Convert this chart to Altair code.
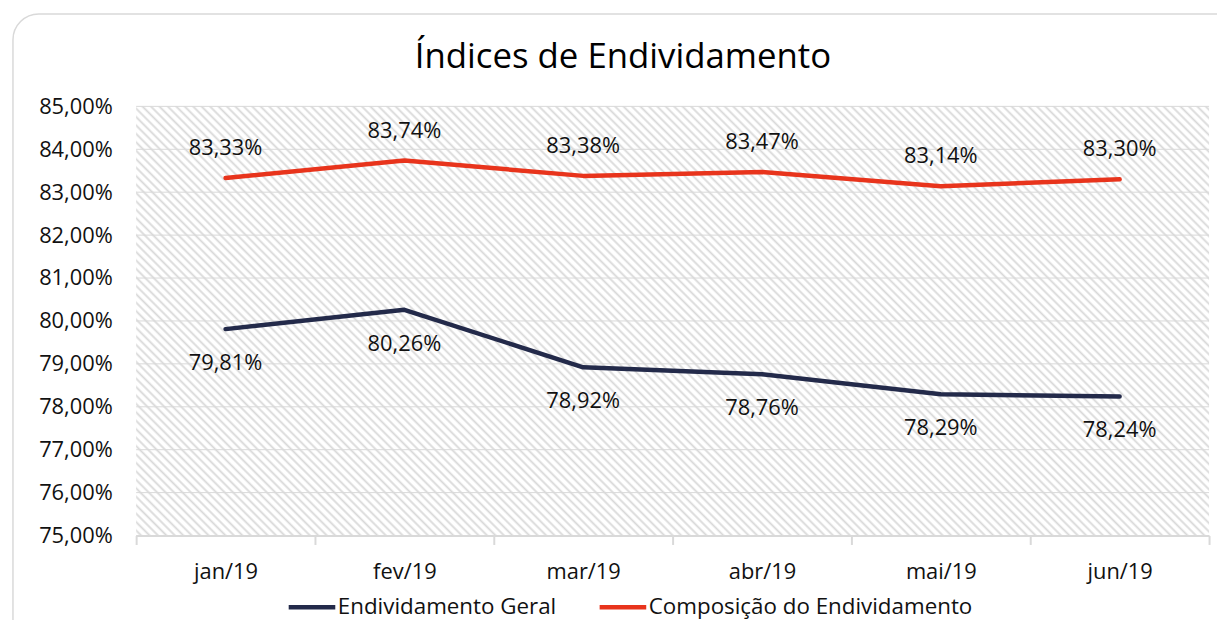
import altair as alt
import pandas as pd

meses = ["jan/19", "fev/19", "mar/19", "abr/19", "mai/19", "jun/19"]
geral = [79.81, 80.26, 78.92, 78.76, 78.29, 78.24]
composicao = [83.33, 83.74, 83.38, 83.47, 83.14, 83.30]
series = ["Endividamento Geral", "Composição do Endividamento"]
y_ticks = [75, 76, 77, 78, 79, 80, 81, 82, 83, 84, 85]

W, H = 1080, 432
FONT = "Open Sans"
FS = 22
DARK = "#232a4a"
RED = "#e8341c"
GRID = "#d9d9d9"
TXT = "#111111"


def fmt(v):
    return f"{v:.2f}".replace(".", ",") + "%"


df = pd.DataFrame({
    "mes": meses * 2,
    "serie": [series[0]] * len(meses) + [series[1]] * len(meses),
    "valor": geral + composicao,
})
df["rotulo"] = df["valor"].map(fmt)
grid_df = pd.DataFrame({"valor": y_ticks})
one = pd.DataFrame({"a": [0]})

# diagonal hatch as a gradient fill (style only)
N = 178
stops = []
for i in range(N):
    stops.append({"offset": i / N, "color": "#ffffff"})
    stops.append({"offset": (i + 0.3) / N, "color": "#ffffff"})
    stops.append({"offset": (i + 0.6) / N, "color": "#d8d8d8"})
    stops.append({"offset": (i + 0.9) / N, "color": "#ffffff"})
stops.append({"offset": 1.0, "color": "#ffffff"})
k = (1 + H / W) / (1 + (H / W) ** 2)
hatch_fill = {
    "gradient": "linear",
    "x1": 0, "y1": 1,
    "x2": k, "y2": 1 - k * H / W,
    "stops": stops,
}

x_scale = alt.Scale(type="band", domain=meses, paddingInner=0, paddingOuter=0)
y_scale = alt.Scale(domain=[75, 85], nice=False, zero=False)

x_axis = alt.Axis(labelAngle=0, tickBand="extent", domainColor=GRID,
                  domainWidth=2, tickColor=GRID, tickWidth=2, tickSize=9,
                  labelPadding=17, labelFontSize=FS, labelFont=FONT,
                  labelColor=TXT, zindex=1, grid=False)
y_axis = alt.Axis(values=y_ticks, domain=False, ticks=False, grid=False,
                  labelExpr="replace(format(datum.value, '.2f'), '.', ',') + '%'",
                  labelPadding=24, labelFontSize=FS, labelFont=FONT,
                  labelColor=TXT)

X = alt.X("mes:N", sort=meses, scale=x_scale, title=None, axis=x_axis)
Y = alt.Y("valor:Q", scale=y_scale, title=None, axis=y_axis)

frame = alt.Chart(one).mark_rect(
    filled=False, stroke=GRID, strokeWidth=1.5, cornerRadius=26
).encode(
    x=alt.value(-124), x2=alt.value(W + 40), y=alt.value(-93), y2=alt.value(H + 130)
)

hatch = alt.Chart(one).mark_rect(fill=hatch_fill).encode(
    x=alt.value(0), x2=alt.value(W), y=alt.value(0), y2=alt.value(H)
)

grid = alt.Chart(grid_df).mark_rule(color=GRID, strokeWidth=1).encode(y=Y)

base = alt.Chart(df)

lines = base.mark_line(strokeWidth=4.5, strokeCap="round", strokeJoin="round").encode(
    x=X,
    y=Y,
    color=alt.Color("serie:N", scale=alt.Scale(domain=series, range=[DARK, RED]),
                    legend=alt.Legend(orient="none", legendX=151, legendY=478,
                                      direction="horizontal", columns=2, title=None,
                                      symbolType="stroke", symbolSize=2200,
                                      symbolStrokeWidth=4.5, labelFontSize=22.5,
                                      labelFont=FONT, labelColor=TXT, labelLimit=500,
                                      labelOffset=0, columnPadding=34)),
    order=alt.Order("mes_idx:Q"),
).transform_calculate(mes_idx=f"indexof({meses}, datum.mes)")

lab_top = base.transform_filter(alt.datum.serie == series[1]).mark_text(
    dy=-30, fontSize=FS, font=FONT, color=TXT
).encode(x=X, y=Y, text="rotulo:N")

lab_bot = base.transform_filter(alt.datum.serie == series[0]).mark_text(
    dy=34, fontSize=FS, font=FONT, color=TXT
).encode(x=X, y=Y, text="rotulo:N")

chart = alt.layer(frame, hatch, grid, lines, lab_top, lab_bot).properties(
    width=W, height=H,
    title=alt.Title("Índices de Endividamento", fontSize=35, font=FONT,
                    fontWeight="normal", color="#000000", anchor="middle",
                    frame="group", baseline="alphabetic", dx=-50, dy=90, offset=0),
    autosize=alt.AutoSizeParams(type="none"),
    padding={"left": 129, "top": 97, "right": 8, "bottom": 83},
).configure_view(stroke=None)

chart.save("out.html", embed_options={"renderer": "svg", "actions": False})
